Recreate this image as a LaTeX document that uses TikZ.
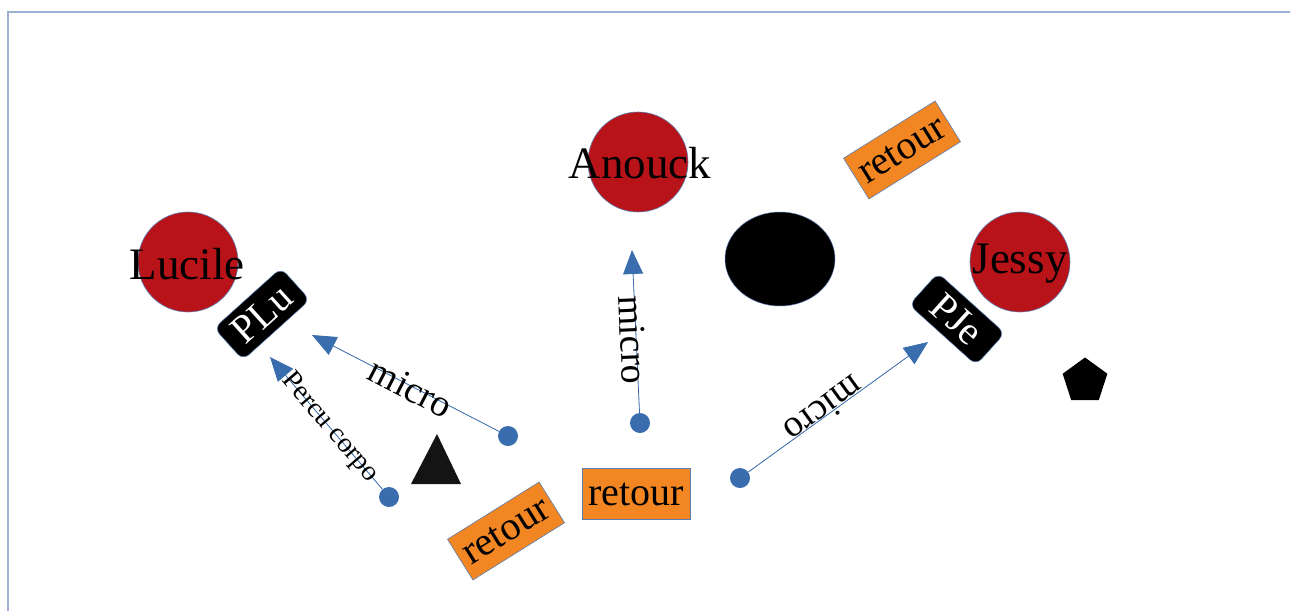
\documentclass[tikz,border=0pt]{standalone}
\usepackage{fontspec}
\setmainfont{Liberation Serif}
\usetikzlibrary{shapes.geometric,arrows.meta}
\definecolor{frameblue}{HTML}{9CB0D2}
\definecolor{dotblue}{HTML}{3A6DAD}
\definecolor{personred}{HTML}{B9131A}
\definecolor{retourorange}{HTML}{F28622}
\definecolor{edgeblue}{HTML}{5A7CB0}
\begin{document}
\begin{tikzpicture}[x=1pt,y=-1pt,
  person/.style={circle, fill=personred, draw=edgeblue, line width=0.6pt, minimum size=100pt, inner sep=0pt},
  pname/.style={inner sep=0pt, font=\fontsize{45}{50}\selectfont},
  pbox/.style={rectangle, rounded corners=8pt, fill=black, draw=edgeblue, line width=0.5pt, minimum width=90pt, minimum height=43pt, inner sep=0pt, text=white, font=\fontsize{40}{44}\selectfont},
  retourbox/.style={rectangle, fill=retourorange, draw=edgeblue, line width=0.6pt, minimum width=108pt, minimum height=48pt, inner sep=0pt, font=\fontsize{40}{44}\selectfont},
  bluedot/.style={circle, fill=dotblue, minimum size=20pt, inner sep=0pt},
  arr/.style={draw=dotblue, line width=0.8pt, -{Triangle[length=24pt,width=20pt]}, fill=dotblue},
  lbl/.style={font=\fontsize{38}{42}\selectfont, inner sep=0pt},
  smalllbl/.style={font=\fontsize{28}{32}\selectfont, inner sep=0pt}
]
\useasboundingbox (0,0) rectangle (1290,611);
% frame
\draw[frameblue, line width=1.5pt] (8,611) -- (8,12) -- (1290,12);

% persons
\node[person] (lucile) at (188,262) {};
\node[pname] (lucileT) at (187,264) {Lucile};
\node[person] (anouck) at (638,162) {};
\node[pname] (anouckT) at (640,163) {Anouck};
\node[person] (jessy) at (1020,262) {};
\node[pname] (jessyT) at (1020,264) {Jessy};

% boxes
\node[pbox, rotate=42] (plu) at (262,314) {PLu};
\node[pbox, rotate=-42] (pje) at (957,319) {PJe};

% black shapes
\node[ellipse, fill=black, draw=edgeblue, line width=0.5pt, minimum width=110pt, minimum height=94pt] (drum) at (780,259) {};
\node[regular polygon, regular polygon sides=5, fill=black, minimum size=47pt, inner sep=0pt] (penta) at (1085,381) {};
\fill[black!92] (437,434) -- (461,484) -- (411,484) -- cycle;

% retour boxes
\node[retourbox, rotate=32] (ret1) at (902,150) {retour};
\node[retourbox, minimum height=51pt] (ret2) at (636,494) {retour};
\node[retourbox, rotate=32] (ret3) at (506,531) {retour};

% dots and tips
\node[bluedot] (d1) at (508,436) {};
\node[bluedot] (d2) at (389,497) {};
\node[bluedot] (d3) at (640,423) {};
\node[bluedot] (d4) at (740,478) {};
\coordinate (t1) at (312,335);
\coordinate (t2) at (270,357);
\coordinate (t3) at (632,250);
\coordinate (t4) at (928,342);

\draw[arr] (d1) -- (t1);
\draw[arr] (d2) -- (t2);
\draw[arr] (d3) -- (t3);
\draw[arr] (d4) -- (t4);

% labels
\node[lbl, rotate=-27.3] (l1) at (411,388) {micro};
\node[smalllbl, rotate=-49.6] (l2) at (330,428) {Percu corpo};
\node[lbl, rotate=-87.5] (l3) at (633,340) {micro};
\node[lbl, rotate=-144.1] (l4) at (824,410) {micro};
\end{tikzpicture}
\end{document}
